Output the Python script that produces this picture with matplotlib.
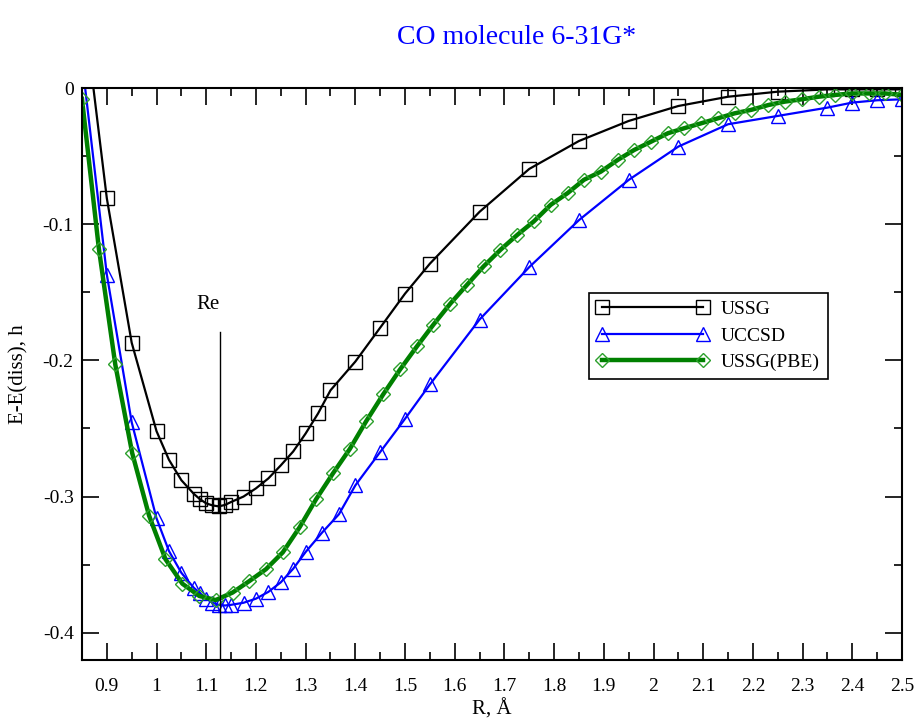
import matplotlib
matplotlib.use("Agg")
import matplotlib.pyplot as plt
from matplotlib.ticker import MultipleLocator, FormatStrFormatter

# USSG (black squares)
r_ussg = [0.85, 0.9, 0.95, 1.0, 1.025, 1.05, 1.075, 1.0875, 1.1, 1.1125, 1.125,
          1.1375, 1.15, 1.175, 1.2, 1.225, 1.25, 1.275, 1.3, 1.325, 1.35, 1.4,
          1.45, 1.5, 1.55, 1.65, 1.75, 1.85, 1.95, 2.05, 2.15, 2.25, 2.35, 2.4,
          2.45, 2.5]
e_ussg = [0.069, -0.081, -0.187, -0.252, -0.273, -0.288, -0.298, -0.302, -0.305,
          -0.3065, -0.3072, -0.3062, -0.304, -0.300, -0.294, -0.2867, -0.2771,
          -0.2669, -0.2537, -0.239, -0.222, -0.2009, -0.176, -0.151, -0.129,
          -0.0909, -0.0594, -0.0389, -0.0242, -0.0132, -0.0064, -0.0027, -0.001,
          -0.001, -0.001, -0.001]

# UCCSD (blue triangles)
r_uccsd = [0.85, 0.9, 0.95, 1.0, 1.025, 1.05, 1.075, 1.0875, 1.1, 1.1125, 1.125,
           1.1375, 1.15, 1.175, 1.2, 1.225, 1.25, 1.275, 1.3, 1.333, 1.367, 1.4,
           1.45, 1.5, 1.55, 1.65, 1.75, 1.85, 1.95, 2.05, 2.15, 2.25, 2.35, 2.4,
           2.45, 2.5]
e_uccsd = [0.02, -0.137, -0.2454, -0.316, -0.340, -0.356, -0.367, -0.371, -0.375,
           -0.378, -0.3795, -0.380, -0.3795, -0.378, -0.375, -0.370, -0.363,
           -0.353, -0.3407, -0.3265, -0.313, -0.2918, -0.2673, -0.2429, -0.2177,
           -0.170, -0.1315, -0.097, -0.0675, -0.043, -0.0266, -0.0205, -0.0144,
           -0.0107, -0.009, -0.0083]

# USSG(PBE) (green diamonds)
r_pbe = [0.850, 0.884, 0.917, 0.951, 0.985, 1.018, 1.052, 1.086, 1.119, 1.153,
         1.187, 1.220, 1.254, 1.288, 1.321, 1.355, 1.389, 1.422, 1.456, 1.490,
         1.524, 1.557, 1.591, 1.625, 1.658, 1.692, 1.726, 1.759, 1.793, 1.827,
         1.860, 1.894, 1.928, 1.961, 1.995, 2.029, 2.062, 2.096, 2.130, 2.163,
         2.197, 2.231, 2.264, 2.298, 2.332, 2.365, 2.399, 2.433, 2.466, 2.500]
e_pbe = [-0.008, -0.118, -0.203, -0.268, -0.314, -0.346, -0.364, -0.373, -0.376,
         -0.3705, -0.362, -0.3534, -0.341, -0.3225, -0.302, -0.283, -0.265,
         -0.2446, -0.225, -0.2067, -0.1897, -0.1738, -0.1584, -0.1444, -0.131,
         -0.1188, -0.1078, -0.098, -0.0858, -0.0772, -0.0674, -0.0614, -0.0528,
         -0.0455, -0.0394, -0.0332, -0.0295, -0.0259, -0.0222, -0.0186, -0.016,
         -0.0125, -0.010, -0.0083, -0.0064, -0.0051, -0.004, -0.004, -0.004,
         -0.005]

r_eq = 1.128  # equilibrium distance marker

plt.rcParams['font.family'] = ['Liberation Serif', 'DejaVu Serif']
plt.rcParams['axes.unicode_minus'] = False

fig = plt.figure(figsize=(9.18, 7.19), dpi=100)
ax = fig.add_axes([0.0893, 0.0821, 0.8933, 0.7955])

ax.plot(r_ussg, e_ussg, color='black', lw=1.6, marker='s', ms=9.5,
        mfc='none', mec='black', mew=1.0, label='USSG')
ax.plot(r_uccsd, e_uccsd, color='blue', lw=1.6, marker='^', ms=9.5,
        mfc='none', mec='blue', mew=1.0, label='UCCSD')
ax.plot(r_pbe, e_pbe, color='green', lw=3.2, marker='D', ms=7,
        mfc='none', mec='#2ca02c', mew=1.0, label='USSG(PBE)')

# Re line
ax.plot([r_eq, r_eq], [-0.42, -0.179], color='black', lw=1.0)
ax.text(1.104, -0.159, 'Re', fontsize=15, ha='center', va='center')

ax.set_xlim(0.85, 2.5)
ax.set_ylim(-0.42, 0)
ax.xaxis.set_major_locator(MultipleLocator(0.1))
ax.xaxis.set_minor_locator(MultipleLocator(0.05))
ax.yaxis.set_major_locator(MultipleLocator(0.1))
ax.yaxis.set_minor_locator(MultipleLocator(0.05))
ax.xaxis.set_major_formatter(FormatStrFormatter('%g'))
ax.yaxis.set_major_formatter(FormatStrFormatter('%g'))
ax.tick_params(which='both', direction='in', top=True, right=True, width=1.2,
               labelsize=14)
ax.tick_params(which='major', length=12)
ax.tick_params(which='minor', length=6)
ax.tick_params(axis='x', which='major', pad=13)
ax.tick_params(axis='y', which='major', pad=6)
for s in ax.spines.values():
    s.set_linewidth(1.5)

ax.set_xlabel('R, Å', fontsize=15, labelpad=3)
ax.set_ylabel('E-E(diss), h', fontsize=15, labelpad=10)
ax.set_title('CO molecule 6-31G*', color='blue', fontsize=20, pad=32, x=0.53)

leg = ax.legend(loc='upper left', bbox_to_anchor=(0.618, 0.642), borderaxespad=0,
                numpoints=2, handlelength=5.8, fontsize=14, fancybox=False,
                edgecolor='black', framealpha=1, borderpad=0.4, labelspacing=0.45,
                handletextpad=0.6)
leg.get_frame().set_linewidth(1.2)

plt.savefig('out.png', dpi=100)
